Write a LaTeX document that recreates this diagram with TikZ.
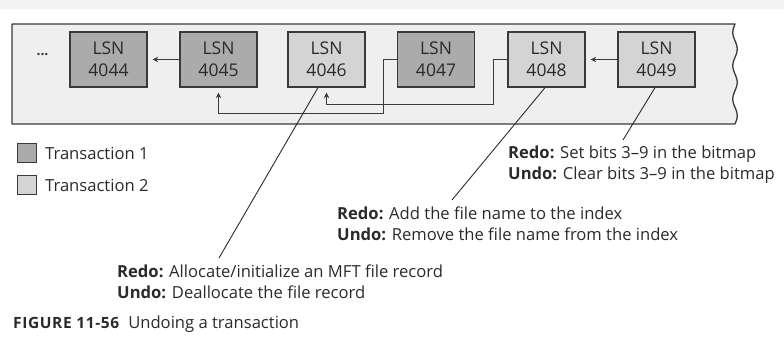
\documentclass[tikz,border=0pt]{standalone}
\usepackage{fontspec}
\setmainfont{Open Sans}
\usetikzlibrary{arrows.meta,calc}
\definecolor{tone}{HTML}{ABABAB}
\definecolor{ttwo}{HTML}{D4D4D4}
\definecolor{cont}{HTML}{EFEFEF}
\definecolor{edgec}{HTML}{3A3A3A}
\definecolor{band}{HTML}{F4F4F4}
\definecolor{txt}{HTML}{2A2A2A}
\tikzset{
  lsnbox/.style={draw=edgec, line width=1.3pt, minimum width=77pt, minimum height=55pt,
    inner sep=0pt, align=center, text=txt, font=\fontsize{17.5}{22}\selectfont},
  tone box/.style={lsnbox, fill=tone},
  ttwo box/.style={lsnbox, fill=ttwo},
  link/.style={draw=edgec, line width=1pt, -{Stealth[length=5.5pt,width=5.5pt]}, shorten >=5pt},
  callout/.style={draw=txt, line width=0.9pt},
  note/.style={anchor=base west, inner sep=0pt, text=txt, font=\fontsize{16.6}{19}\selectfont},
  keybox/.style={draw=edgec, line width=1pt, minimum width=19pt, minimum height=19pt, inner sep=0pt},
}
\begin{document}
\begin{tikzpicture}[x=1pt,y=-1pt]
\useasboundingbox (0,0) rectangle (784,356);
\fill[band] (0,0) rectangle (784,9);
% container with wavy right edge
\filldraw[fill=cont, draw=edgec, line width=1.3pt, line join=round]
  (735,24) -- (12,24) -- (12,124) -- (735,124)
  -- plot[domain=124:24, samples=80, smooth] ({735+2.2*sin((124-\x)*10.81)}, \x) -- cycle;
\node[inner sep=0pt, text=edgec, font=\fontsize{14}{14}\selectfont\bfseries] (dots) at (42.5,55) {...};
% LSN boxes
\node[tone box] (n44) at (108.5,59.5) {LSN\\4044};
\node[tone box] (n45) at (218.5,59.5) {LSN\\4045};
\node[ttwo box] (n46) at (326.5,59.5) {LSN\\4046};
\node[tone box] (n47) at (436,59.5) {LSN\\4047};
\node[ttwo box] (n48) at (546.5,59.5) {LSN\\4048};
\node[ttwo box] (n49) at (656.5,59.5) {LSN\\4049};
% links
\coordinate (k48) at (493,104);
\coordinate (k47) at (383,113);
\draw[link] (n45.west) -- (n44.east);
\draw[link] (n49.west) -- (n48.east);
\draw[link] (n48.west) -| (k48) -| (n46.south);
\draw[link] (n47.west) -| (k47) -| (n45.south);
% legend
\node[keybox, fill=tone] (key1) at (26.5,153) {};
\node[keybox, fill=ttwo] (key2) at (26.5,185) {};
\node[note] (key1t) at (45,159) {Transaction 1};
\node[note] (key2t) at (45,191) {Transaction 2};
% notes
\node[note] (r49) at (508,158) {\textbf{Redo:} Set bits 3–9 in the bitmap};
\node[note] (u49) at (508,179) {\textbf{Undo:} Clear bits 3–9 in the bitmap};
\node[note] (r48) at (337,219) {\textbf{Redo:} Add the file name to the index};
\node[note] (u48) at (337,240) {\textbf{Undo:} Remove the file name from the index};
\node[note] (r46) at (117,277) {\textbf{Redo:} Allocate/initialize an MFT file record};
\node[note] (u46) at (117,298) {\textbf{Undo:} Deallocate the file record};
% callout lines
\coordinate (e49) at (623,140);
\coordinate (e48) at (452,200);
\coordinate (e46) at (219,258);
\draw[callout] ([xshift=-1.5pt]n49.south) -- (e49);
\draw[callout] ([xshift=-1.5pt]n48.south) -- (e48);
\draw[callout] ([xshift=-8.5pt]n46.south) -- (e46);
% caption
\node[note] (cap) at (13,328) {{\bfseries\fontsize{15.5}{16}\selectfont\addfontfeatures{LetterSpace=4}FIGURE 11-56}\hspace{9pt}Undoing a transaction};
\end{tikzpicture}
\end{document}
